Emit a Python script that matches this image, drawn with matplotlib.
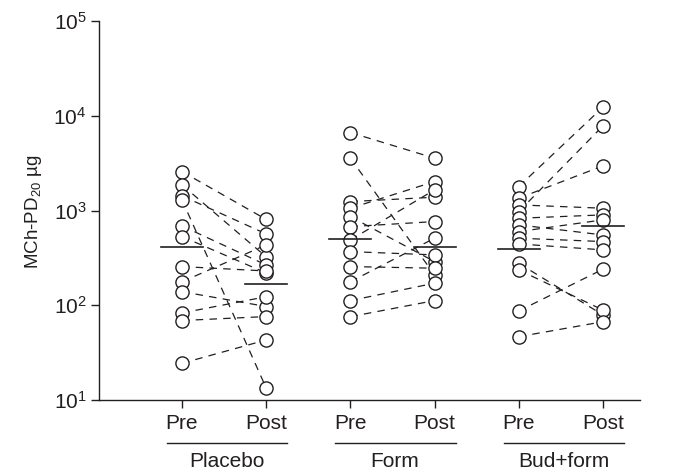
import matplotlib
matplotlib.use("Agg")
import matplotlib.pyplot as plt
from matplotlib.ticker import LogLocator, LogFormatterSciNotation, NullLocator
import matplotlib.transforms as mtransforms

plt.rcParams['font.family'] = ['Liberation Sans', 'DejaVu Sans']
plt.rcParams['mathtext.default'] = 'regular'
INK = '#231f20'

groups = ["Placebo", "Form", "Bud+form"]
phases = ["Pre", "Post"]

placebo_pre = [2576, 1862, 1427, 1294, 688, 531, 256, 177, 139, 83, 69, 24.4]
placebo_post = [805, 324, 566, 13.4, 266, 219, 230, 433, 97, 123, 76, 43]

form_pre = [6650, 3566, 1242, 1057, 862, 676, 489, 368, 256, 177, 112, 75.8]
form_post = [3566, 209, 1381, 2019, 289, 764, 1651, 340, 246, 510, 171, 112]

bud_pre = [1788, 1349, 1146, 973, 828, 705, 599, 510, 444, 277, 236, 87, 46.6]
bud_post = [12330, 2958, 1057, 7820, 899, 552, 796, 470, 384, 79, 89, 240, 67]

summary_pre = [410, 498, 390]
summary_post = [168, 416, 688]

pairs = [(placebo_pre, placebo_post), (form_pre, form_post), (bud_pre, bud_post)]

fig = plt.figure(figsize=(6.81, 4.70), dpi=100)
ax = fig.add_axes([99/681, 70/470, (640-99)/681, 379/470])

for gi, (pre, post) in enumerate(pairs):
    x0 = 1 + 2*gi
    x1 = x0 + 1
    for a, b in zip(pre, post):
        ax.plot([x0, x1], [a, b], color=INK, lw=0.9, ls=(0, (6, 5)), zorder=1)
    ax.plot([x0]*len(pre), pre, 'o', ms=9.5, mfc='white', mec=INK, mew=1.0, zorder=3)
    ax.plot([x1]*len(post), post, 'o', ms=9.5, mfc='white', mec=INK, mew=1.0, zorder=3)
    ax.plot([x0-0.25, x0+0.25], [summary_pre[gi]]*2, color=INK, lw=1.2, zorder=4)
    ax.plot([x1-0.25, x1+0.25], [summary_post[gi]]*2, color=INK, lw=1.2, zorder=4)

ax.set_yscale('log')
ax.set_ylim(10, 1e5)
ax.set_xlim(0.0143, 6.44)
ax.yaxis.set_major_locator(LogLocator(base=10, numticks=10))
ax.yaxis.set_major_formatter(LogFormatterSciNotation())
ax.yaxis.set_minor_locator(NullLocator())
ax.set_xticks([1, 2, 3, 4, 5, 6])
ax.set_xticklabels(phases*3)
ax.tick_params(axis='both', labelsize=15, length=6, width=1, direction='out',
               color=INK, labelcolor=INK, pad=4)
ax.tick_params(axis='y', pad=3)
for s in ['top', 'right']:
    ax.spines[s].set_visible(False)
for s in ['left', 'bottom']:
    ax.spines[s].set_linewidth(1.0)
    ax.spines[s].set_color(INK)

fig.text(33/681, 1 - 212/470, 'MCh-PD$_{20}$ µg', rotation=90, ha='center', va='center',
         fontsize=13.5, color=INK)

trans = mtransforms.blended_transform_factory(ax.transData, ax.transAxes)
for gi, g in enumerate(groups):
    x0 = 1 + 2*gi
    x1 = x0 + 1
    ax.plot([x0-0.18, x1+0.25], [-0.113, -0.113], transform=trans, color=INK, lw=1.0, clip_on=False)
    ax.text((x0+x1)/2 + 0.03, -0.163, g, transform=trans, ha='center', va='center', fontsize=15, color=INK)

fig.savefig('out.png', dpi=100)
